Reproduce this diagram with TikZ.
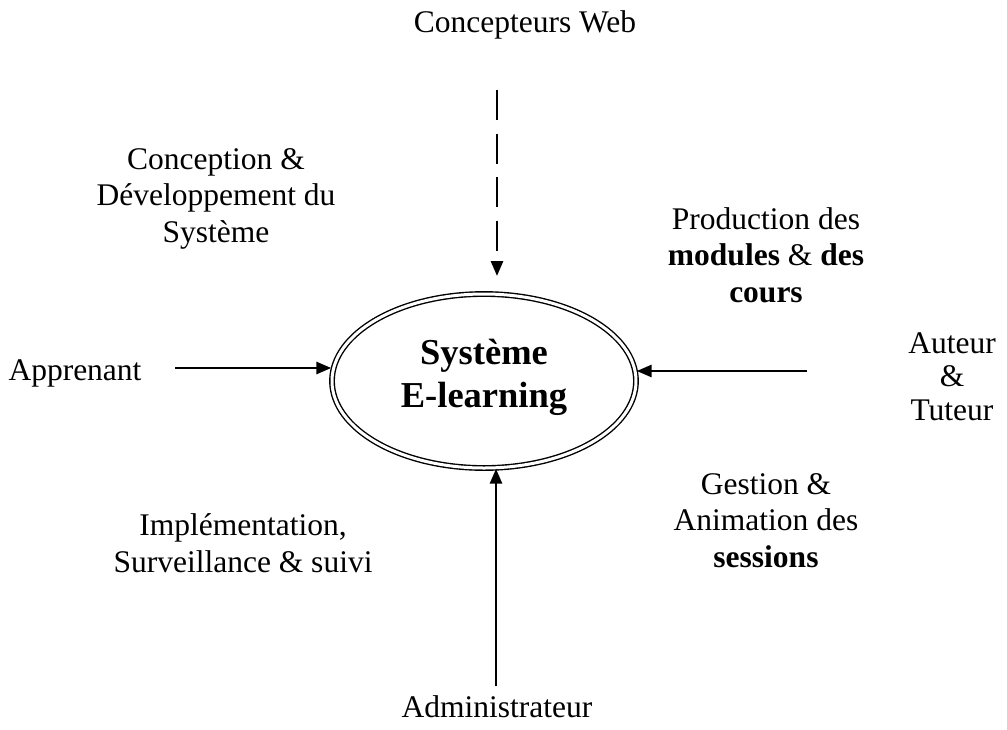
\documentclass[tikz,border=0pt]{standalone}
\usepackage{fontspec}
\setmainfont{Liberation Serif}
\usetikzlibrary{arrows.meta,shapes.geometric}
\begin{document}
\begin{tikzpicture}[x=1pt,y=-1pt,
  lbl/.style={font=\fontsize{31.5}{36.5}\selectfont, align=center, inner sep=0pt, anchor=base},
  arr/.style={line width=2.8pt, -{Triangle[length=15pt,width=12pt]}},
  dasharr/.style={arr, dash pattern=on 30pt off 13.5pt},
  sys/.style={ellipse, draw, double, line width=1.4pt, double distance=3pt,
    minimum width=304pt, minimum height=174pt, inner sep=0pt},
  systxt/.style={font=\fontsize{36.5}{43}\selectfont\bfseries, align=center, inner sep=0pt, anchor=base}]
\useasboundingbox (0,0) rectangle (1007,729);

\node[sys] (ell) at (484,381) {};
\node[systxt] (elltxt) at (484,407) {Système\\E-learning};

\node[lbl] (web) at (525,32) {Concepteurs Web};
\node[lbl] (conc) at (216,242) {Conception \&\\Développement du\\Système};
\node[lbl] (prod) at (766,302) {Production des\\\textbf{modules} \& \textbf{des}\\\textbf{cours}};
\node[lbl, font=\fontsize{31.5}{33.5}\selectfont] (aut) at (952,420) {Auteur\\\&\\Tuteur};
\node[lbl] (app) at (75,380) {Apprenant};
\node[lbl] (gest) at (766,567) {Gestion \&\\Animation des\\\textbf{sessions}};
\node[lbl] (impl) at (243,572) {Implémentation,\\Surveillance \& suivi};
\node[lbl] (adm) at (497,717) {Administrateur};

\coordinate (ts) at (497,90);
\coordinate (tt) at (497,276);
\coordinate (ls) at (175,368);
\coordinate (rs) at (807,371);
\coordinate (bs) at (496,686);

\draw[dasharr] (ts) -- (tt);
\draw[arr] (ls) -- (ls -| ell.west);
\draw[arr] (rs) -- (rs -| ell.east);
\draw[arr] (bs) -- (bs |- ell.south);
\end{tikzpicture}
\end{document}
